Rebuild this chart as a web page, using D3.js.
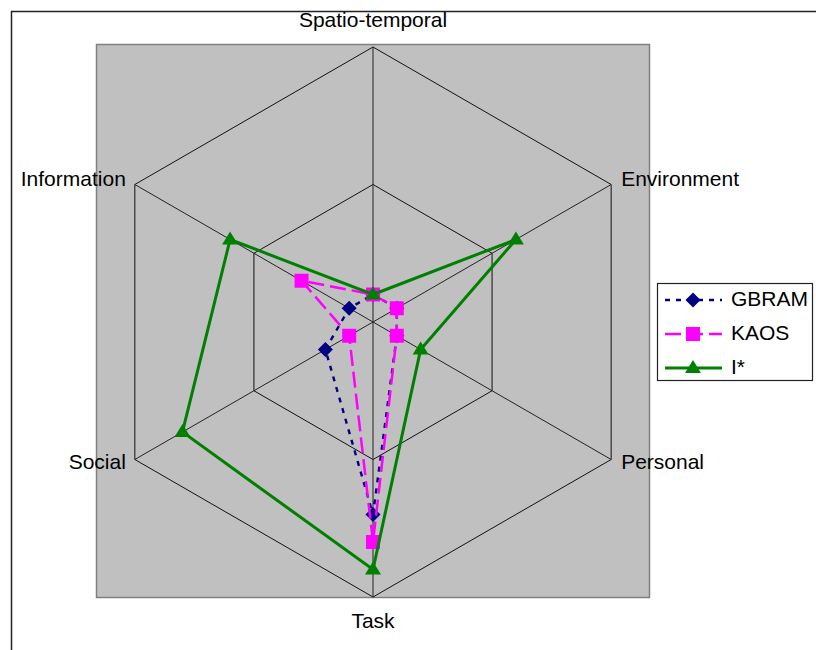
<!DOCTYPE html>
<html>
<head>
<meta charset="utf-8">
<script src="https://cdn.jsdelivr.net/npm/d3@7"></script>
<style>
html,body{margin:0;padding:0;background:#fff;}
svg{display:block;font-family:"Liberation Sans",Arial,sans-serif;}
</style>
</head>
<body>
<svg id="chart" width="816" height="650"></svg>
<script>
const axes = ["Spatio-temporal","Environment","Personal","Task","Social","Information"];
const gbram = [1,1,1,7,2,1];
const kaos  = [1,1,1,8,1,3];
const istar = [1,6,2,9,8,6];
const seriesNames = ["GBRAM","KAOS","I*"];
const gridLevels = [5,10];

const svg = d3.select("#chart");
const cx = 373, cy = 322, R = 275;
const r = d3.scaleLinear().domain([0,10]).range([0,R]);
const ang = d3.scaleLinear().domain([0,axes.length]).range([0,2*Math.PI]);
const pt = (i,v) => [cx + r(v)*Math.sin(ang(i)), cy - r(v)*Math.cos(ang(i))];

// outer frame
svg.append("rect").attr("x",11.5).attr("y",11.5).attr("width",820).attr("height",660)
  .attr("fill","none").attr("stroke","#222").attr("stroke-width",1.5);

// plot area
svg.append("rect").attr("x",96.5).attr("y",44.5).attr("width",553).attr("height",553)
  .attr("fill","#c0c0c0").attr("stroke","#808080").attr("stroke-width",1.5);

// grid rings
const line = d3.line();
gridLevels.forEach(l=>{
  const pts = axes.map((a,i)=>pt(i,l));
  svg.append("path").attr("d", line(pts)+"Z").attr("fill","none").attr("stroke","#111").attr("stroke-width",1);
});
// radial axes
axes.forEach((a,i)=>{
  const p = pt(i,10);
  svg.append("line").attr("x1",cx).attr("y1",cy).attr("x2",p[0]).attr("y2",p[1])
    .attr("stroke","#222").attr("stroke-width",1);
});

// axis labels
const lab = svg.append("g").attr("font-size",21).attr("fill","#000");
axes.forEach((a,i)=>{
  const p = pt(i,10);
  let x=p[0], y=p[1], anchor="middle";
  const s = Math.sin(ang(i)), c = Math.cos(ang(i));
  if (Math.abs(s) < 0.01) { y = c>0 ? p[1]-20 : p[1]+31; }
  else {
    anchor = s>0 ? "start" : "end";
    x = s>0 ? p[0]+10 : p[0]-9;
    y = c>0 ? p[1]-4 : p[1]+4;
  }
  lab.append("text").attr("x",x).attr("y",y).attr("text-anchor",anchor)
    .attr("dominant-baseline", Math.abs(s)<0.01 ? "auto" : "middle").text(a);
});

// markers
function marker(g, type, x, y, color){
  if(type==="diamond"){
    g.append("path").attr("d",`M${x},${y-7.5}L${x+7.5},${y}L${x},${y+7.5}L${x-7.5},${y}Z`).attr("fill",color);
  } else if(type==="square"){
    g.append("rect").attr("x",x-7).attr("y",y-7).attr("width",14).attr("height",14).attr("fill",color);
  } else {
    g.append("path").attr("d",`M${x},${y-8}L${x+8},${y+5}L${x-8},${y+5}Z`).attr("fill",color);
  }
}

const series = [
  {name:seriesNames[0], values:gbram, color:"#000080", dash:"5,6", width:2.4, mk:"diamond"},
  {name:seriesNames[1], values:kaos, color:"#ff00ff", dash:"16,6", width:2.5, mk:"square"},
  {name:seriesNames[2], values:istar, color:"#008000", dash:null, width:3, mk:"triangle"}
];

series.forEach(s=>{
  const g = svg.append("g");
  const pts = s.values.map((v,i)=>pt(i,v));
  g.append("path").attr("d", line(pts)+"Z").attr("fill","none")
    .attr("stroke",s.color).attr("stroke-width",s.width)
    .attr("stroke-dasharray", s.dash);
  pts.forEach(p=>marker(g, s.mk, p[0], p[1], s.color));
});

// legend
const lg = svg.append("g");
lg.append("rect").attr("x",657.5).attr("y",283.5).attr("width",155).attr("height",97)
  .attr("fill","#fff").attr("stroke","#222").attr("stroke-width",1.2);
const rowY = [300, 334, 368];
series.forEach((s,k)=>{
  lg.append("line").attr("x1",665).attr("x2",722).attr("y1",rowY[k]).attr("y2",rowY[k])
    .attr("stroke",s.color).attr("stroke-width",s.width).attr("stroke-dasharray",s.dash);
  marker(lg, s.mk, 693, rowY[k], s.color);
  lg.append("text").attr("x",731).attr("y",rowY[k]).attr("dominant-baseline","middle")
    .attr("font-size",21).text(s.name);
});
</script>
</body>
</html>
